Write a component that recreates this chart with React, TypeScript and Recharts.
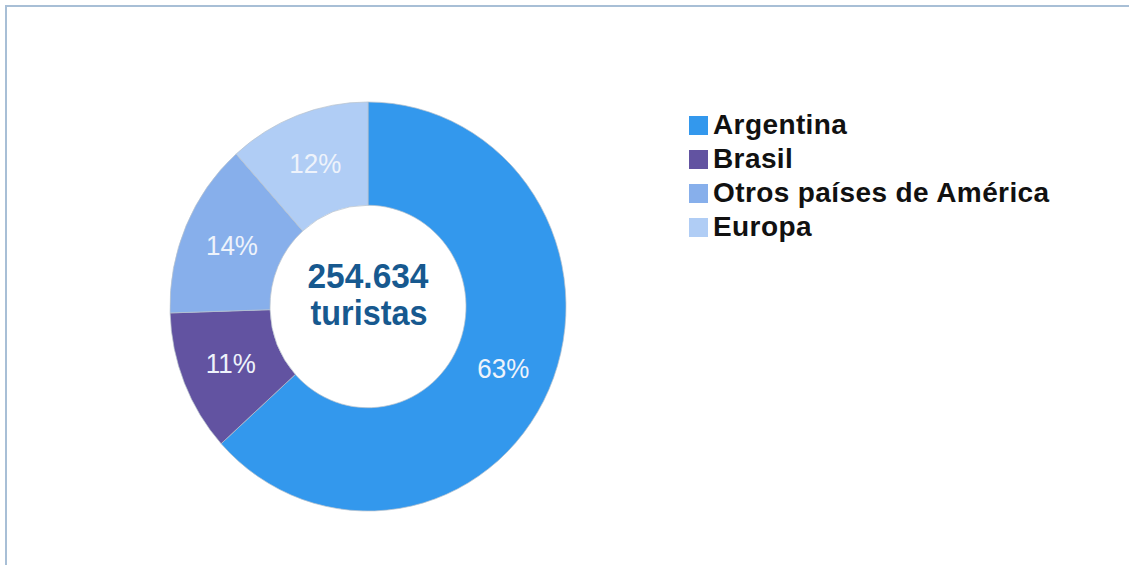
import React from "react";
import { PieChart, Pie, Cell } from "recharts";

const categories = ["Argentina", "Brasil", "Otros países de América", "Europa"];
const shares = [63.3, 11.2, 13.9, 11.6];
const colors = ["#3398ed", "#6253a1", "#87afeb", "#b0cdf5"];
const centerLines = ["254.634", "turistas"];

const data = categories.map((name, i) => ({ name, value: shares[i] }));

const RAD = Math.PI / 180;
const STRETCH = 1.033;

const renderLabel = (props: any) => {
  const { cx, cy, midAngle, innerRadius, outerRadius, percent } = props;
  const r = (innerRadius + outerRadius) / 2;
  const x = cx + r * Math.cos(-midAngle * RAD);
  const y = cy + r * Math.sin(-midAngle * RAD);
  return (
    <text
      x={x}
      y={y}
      fill="#eef3fb"
      textAnchor="middle"
      dominantBaseline="central"
      fontFamily="'Liberation Sans', Arial, sans-serif"
      fontSize={26}
    >
      {`${Math.round(percent * 100)}%`}
    </text>
  );
};

const LegendBox = () => (
  <div style={{ position: "absolute", left: 689, top: 108, fontFamily: "'Liberation Sans', Arial, sans-serif" }}>
    {categories.map((c, i) => (
      <div key={c} style={{ display: "flex", alignItems: "center", height: 34 }}>
        <div style={{ width: 19, height: 19, background: colors[i], marginRight: 5 }} />
        <span style={{ fontSize: 28, fontWeight: "bold", color: "#111", lineHeight: "34px", letterSpacing: 0.4 }}>{c}</span>
      </div>
    ))}
  </div>
);

export default function App() {
  return (
    <div style={{ position: "absolute", left: 0, top: 0, width: 1129, height: 565, overflow: "hidden", background: "#fff" }}>
      <div
        style={{
          position: "absolute",
          left: 5,
          top: 5,
          right: -10,
          bottom: -10,
          borderTop: "2px solid #a8bfd6",
          borderLeft: "2px solid #a8bfd6",
        }}
      />
      <div style={{ position: "absolute", left: 0, top: 0, transform: `scaleY(${STRETCH})`, transformOrigin: "0 306.5px" }}>
        <PieChart width={1129} height={565} margin={{ top: 0, right: 0, bottom: 0, left: 0 }}>
          <Pie
            data={data}
            dataKey="value"
            nameKey="name"
            cx={368}
            cy={306.5}
            innerRadius={98}
            outerRadius={198}
            startAngle={90}
            endAngle={-270}
            stroke="#b8c2cc"
            strokeWidth={0.7}
            label={renderLabel}
            labelLine={false}
            isAnimationActive={false}
          >
            {data.map((d, i) => (
              <Cell key={d.name} fill={colors[i]} />
            ))}
          </Pie>
          <text
            x={368}
            y={289}
            textAnchor="middle"
            fill="#17598f"
            fontFamily="'Liberation Sans', Arial, sans-serif"
            fontWeight="bold"
            fontSize={34}
            textLength={121}
            lengthAdjust="spacingAndGlyphs"
          >
            {centerLines[0]}
          </text>
          <text
            x={369}
            y={324}
            textAnchor="middle"
            fill="#17598f"
            fontFamily="'Liberation Sans', Arial, sans-serif"
            fontWeight="bold"
            fontSize={34}
            textLength={117}
            lengthAdjust="spacingAndGlyphs"
          >
            {centerLines[1]}
          </text>
        </PieChart>
      </div>
      <LegendBox />
    </div>
  );
}
